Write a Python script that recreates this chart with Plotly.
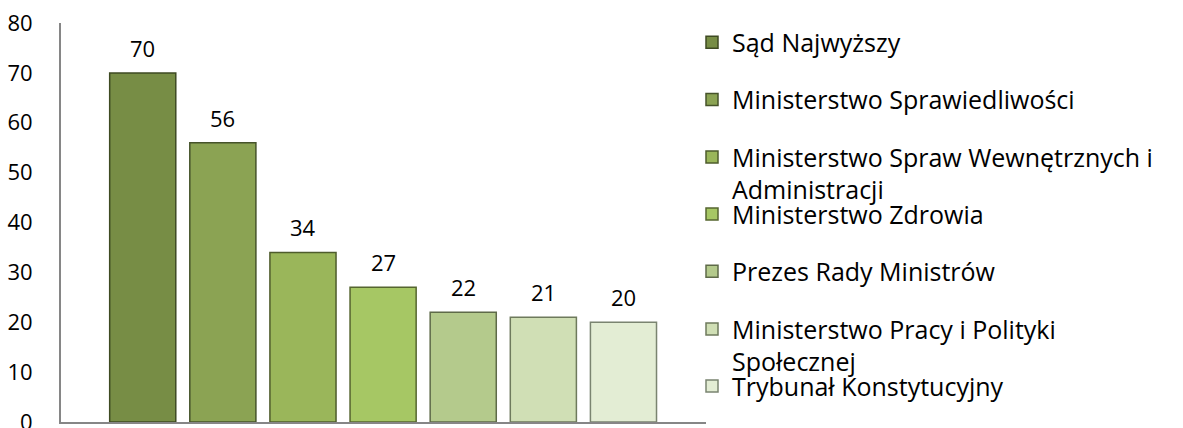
import plotly.graph_objects as go

names = [
    "Sąd Najwyższy",
    "Ministerstwo Sprawiedliwości",
    "Ministerstwo Spraw Wewnętrznych i<br>Administracji",
    "Ministerstwo Zdrowia",
    "Prezes Rady Ministrów",
    "Ministerstwo Pracy i Polityki<br>Społecznej",
    "Trybunał Konstytucyjny",
]
values = [70, 56, 34, 27, 22, 21, 20]
colors = ["#778D45", "#8BA353", "#9AB65A", "#A6C764", "#B4CA8C", "#D0DFB5", "#E3EDD4"]
edge_colors = ["#3E4A22", "#46532A", "#4E5C2C", "#55652F", "#5E6A48", "#6E7A5C", "#7A8470"]
y_ticks = [0, 10, 20, 30, 40, 50, 60, 70, 80]

W, H = 1183, 428
FONT = "Open Sans"
LEG_SIZE = 25

fig = go.Figure()
legend_names = ["legend"] + [f"legend{i}" for i in range(2, 8)]
for i, (n, v, c, e) in enumerate(zip(names, values, colors, edge_colors)):
    fig.add_trace(go.Bar(
        x=[i], y=[v], name=n, width=0.825,
        marker=dict(color=c, line=dict(color=e, width=1.5)),
        legend=legend_names[i], showlegend=True,
        hoverinfo="name+y",
    ))
    fig.add_annotation(x=i, y=v, text=str(v), showarrow=False,
                       yanchor="middle", yshift=25,
                       font=dict(family=FONT, size=22, color="#000000"))

# legend positions (first-line baselines in px)
layout_legends = {}
for i, n in enumerate(names):
    baseline = 51 + 57.3 * i
    center = baseline - 8.6
    if "<br>" in n:
        center += 0.65 * LEG_SIZE
    layout_legends[legend_names[i]] = dict(
        x=692 / W, xref="container", xanchor="left",
        y=1 - center / H, yref="container", yanchor="middle",
        valign="top", bgcolor="rgba(0,0,0,0)",
        font=dict(family=FONT, size=LEG_SIZE, color="#000000"),
        itemclick=False, itemdoubleclick=False,
    )

fig.update_layout(
    width=W, height=H,
    margin=dict(l=61, r=W - 706, t=23, b=6, autoexpand=False),
    paper_bgcolor="white", plot_bgcolor="white",
    barmode="overlay",
    font=dict(family=FONT, size=22, color="#000000"),
    xaxis=dict(range=[-1.02, 7.03], showticklabels=False, showgrid=False,
               zeroline=False, showline=True, linecolor="#868686", linewidth=2,
               ticks="", automargin=False),
    yaxis=dict(range=[0, 80], tickvals=y_ticks, showgrid=False, zeroline=False,
               showline=True, linecolor="#868686", linewidth=2, ticks="",
               ticklabelstandoff=22, ticklabeloverflow="allow", automargin=False,
               tickfont=dict(family=FONT, size=22, color="#000000")),
    **layout_legends,
)

fig.write_html("out.html", config={"displayModeBar": False},
               post_script="document.body.style.margin='0';")
